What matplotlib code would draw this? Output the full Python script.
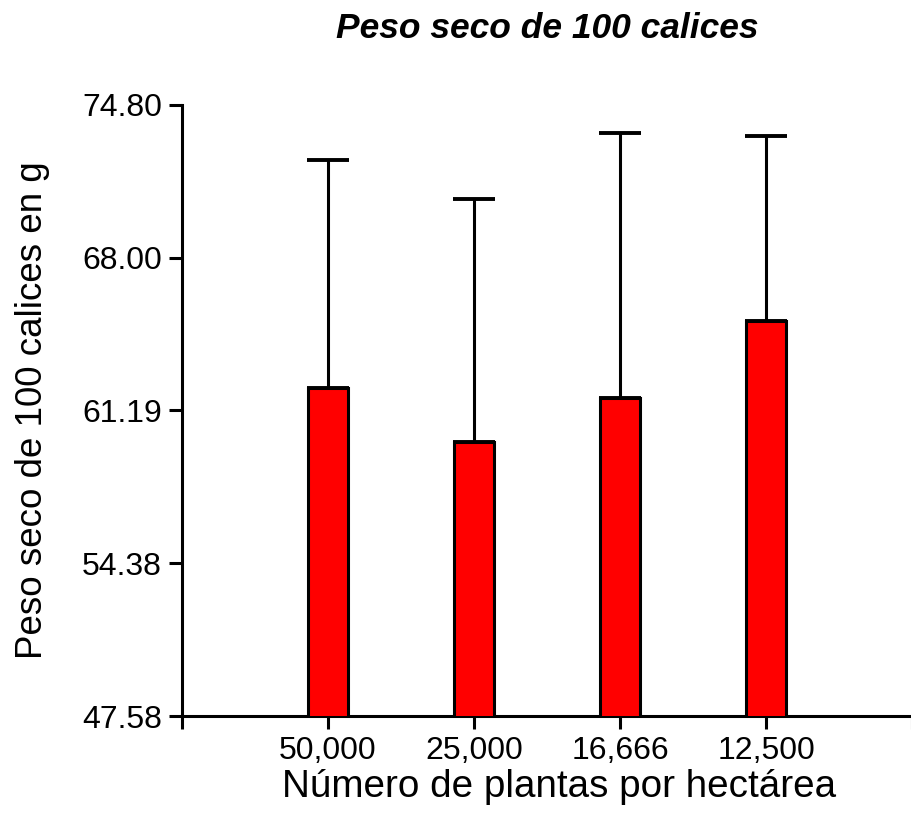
import matplotlib
matplotlib.use('Agg')
import matplotlib.pyplot as plt

# data
categorias = ['50,000', '25,000', '16,666', '12,500']
medias = [62.18, 59.77, 61.76, 65.19]
errores = [10.18, 10.85, 11.79, 8.24]
yticks = [47.58, 54.38, 61.19, 68.00, 74.80]

plt.rcParams['font.family'] = ['Liberation Sans', 'DejaVu Sans']

fig = plt.figure(figsize=(9.12, 8.27), dpi=100)
ax = fig.add_axes([0.1996, 0.1342, 0.8004, 0.739])

pos = [1, 2, 3, 4]
ax.bar(pos, medias, width=0.27, color='red', edgecolor='black', linewidth=2.2, zorder=3)
ax.errorbar(pos, medias, yerr=[[0] * 4, errores], fmt='none', ecolor='black',
            elinewidth=2.2, capsize=15, capthick=2.8, zorder=2)

ax.set_ylim(47.58, 74.80)
ax.set_xlim(0, 5)
ax.set_yticks(yticks)
ax.set_yticklabels(['%.2f' % v for v in yticks], fontsize=23)
ax.set_xticks([0] + pos + [5])
ax.set_xticklabels([''] + categorias + [''], fontsize=23)

for s in ['top', 'right']:
    ax.spines[s].set_visible(False)
for s in ['left', 'bottom']:
    ax.spines[s].set_linewidth(2.2)
ax.tick_params(axis='both', length=9.5, width=2.2, pad=5)

ax.set_ylabel('Peso seco de 100 calices en g', fontsize=26.5, labelpad=23)
ax.set_xlabel('Número de plantas por hectárea', fontsize=27.8, labelpad=2)
ax.xaxis.label.set_x(0.516)
ax.set_title('Peso seco de 100 calices', fontsize=25.5, fontweight='bold',
             fontstyle='italic', pad=48)

fig.savefig('out.png', dpi=100)
